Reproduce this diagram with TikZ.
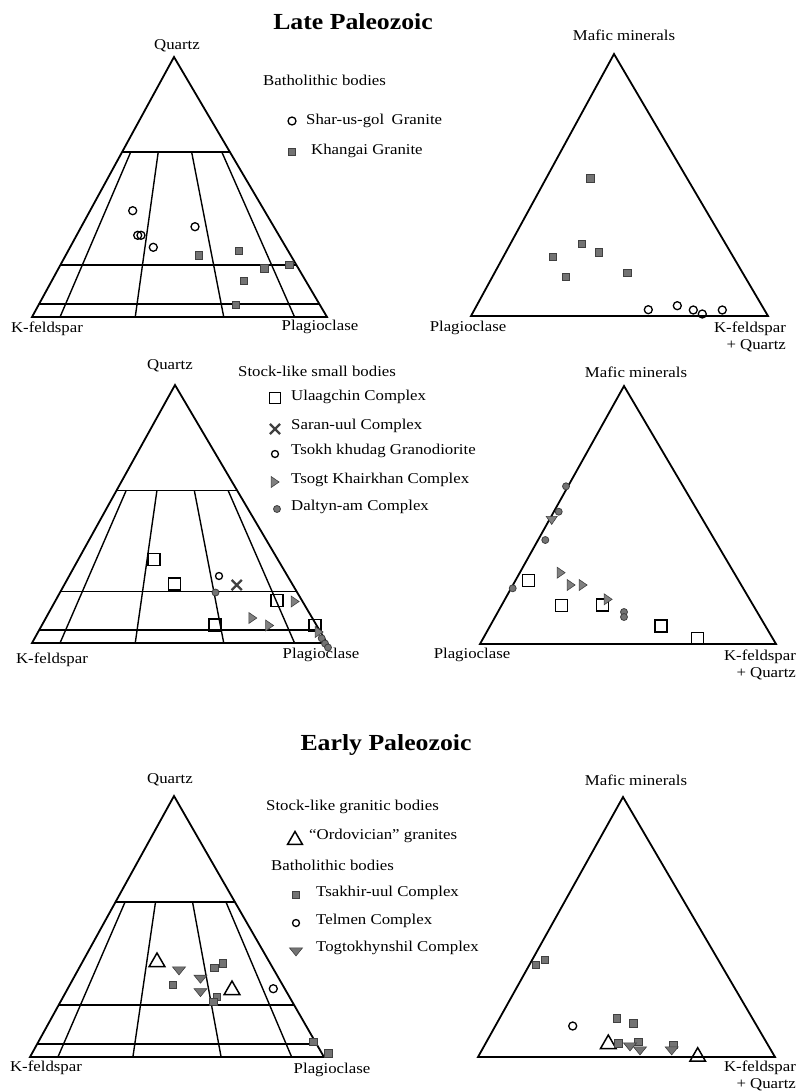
\documentclass[tikz,border=0pt]{standalone}
\usepackage{fontspec}
\setmainfont{Liberation Serif}[FakeStretch=1.12]
\usetikzlibrary{shapes.geometric,shapes.misc}

\begin{document}
\begin{tikzpicture}[x=1pt,y=-1pt,
    lbl/.style={font=\fontsize{15}{17}\selectfont,inner sep=1pt},
    leg/.style={lbl,anchor=west},
    ttl/.style={font=\fontsize{23}{26}\selectfont\bfseries},
    tri/.style={line width=1.8},
    grid/.style={line width=1.4},
    ocirc/.style={circle,draw,line width=1.3,inner sep=0,minimum size=8},
    gsq/.style={rectangle,fill=black!55,draw=black!75,line width=0.6,inner sep=0,minimum size=7.5},
    osq/.style={rectangle,draw,line width=1.4,inner sep=0,minimum size=12},
    xmark/.style={cross out,draw=black!75,line width=2.2,inner sep=0,minimum size=8},
    tsogt/.style={isosceles triangle,isosceles triangle stretches,fill=black!50,draw=black!75,line width=0.6,inner sep=0,minimum width=11,minimum height=8},
    gcirc/.style={circle,fill=black!55,draw=black!75,line width=0.8,inner sep=0,minimum size=7},
    otri/.style={regular polygon,regular polygon sides=3,draw,line width=1.5,inner sep=0,minimum size=18},
    togt/.style={isosceles triangle,isosceles triangle stretches,shape border rotate=-90,fill=black!55,draw=black!75,line width=0.6,inner sep=0,minimum width=13,minimum height=8}]

  \useasboundingbox (0,0) rectangle (798,1092);

  % Corners of the six triangles
  \coordinate (Qa) at (174,57);   \coordinate (Aa) at (32,317);   \coordinate (Pa) at (327,317);
  \coordinate (Qb) at (175,385);  \coordinate (Ab) at (32,643);   \coordinate (Pb) at (327,643);
  \coordinate (Qc) at (174,796);  \coordinate (Ac) at (30,1057);  \coordinate (Pc) at (324,1057);
  \coordinate (Ma) at (614,54);   \coordinate (La) at (471,316);  \coordinate (Ka) at (768,316);
  \coordinate (Mb) at (624,386);  \coordinate (Lb) at (480,644);  \coordinate (Kb) at (776,644);
  \coordinate (Mc) at (623,797);  \coordinate (Lc) at (478,1057); \coordinate (Kc) at (775,1057);

  % QAP triangles with their fields
  \foreach \t/\h in {a/0.635, b/0.59, c/0.594} {
    \pgfmathsetmacro{\hh}{1-\h}
    \draw[tri] (Q\t) -- (A\t) -- (P\t) -- cycle;
    \draw[grid] (barycentric cs:Q\t=\h,A\t=\hh) -- (barycentric cs:Q\t=\h,P\t=\hh);
    \draw[grid] (barycentric cs:Q\t=0.2,A\t=0.8) -- (barycentric cs:Q\t=0.2,P\t=0.8);
    \draw[grid] (barycentric cs:Q\t=0.05,A\t=0.95) -- (barycentric cs:Q\t=0.05,P\t=0.95);
    \foreach \r/\s in {0.095/0.08, 0.35/0.335, 0.65/0.645, 0.89/0.925} {
      \pgfmathsetmacro{\ra}{1-\r}
      \pgfmathsetmacro{\ta}{\hh*(1-\s)}
      \pgfmathsetmacro{\tp}{\hh*\s}
      \draw[grid] (barycentric cs:A\t=\ra,P\t=\r) -- (barycentric cs:Q\t=\h,A\t=\ta,P\t=\tp);
    }
  }

  % Mafic triangles
  \foreach \t in {a,b,c}
    \draw[tri] (M\t) -- (L\t) -- (K\t) -- cycle;

  % Titles
  \node[ttl] (late) at (353,22) {Late Paleozoic};
  \node[ttl] (early) at (386,745) {Early Paleozoic};

  % Corner labels
  \node[lbl] (qza) at (177,46) {Quartz};
  \node[lbl] (kfa) at (47,329) {K-feldspar};
  \node[lbl] (pla) at (320,327) {Plagioclase};
  \node[lbl] (mfa) at (624,35) {Mafic minerals};
  \node[lbl] (pra) at (468,328) {Plagioclase};
  \node[lbl,align=right] (kqa) at (750,337) {K-feldspar\\+ Quartz};

  \node[lbl] (qzb) at (170,366) {Quartz};
  \node[lbl] (kfb) at (52,660) {K-feldspar};
  \node[lbl] (plb) at (321,655) {Plagioclase};
  \node[lbl] (mfb) at (636,372) {Mafic minerals};
  \node[lbl] (prb) at (472,655) {Plagioclase};
  \node[lbl,align=right] (kqb) at (760,665) {K-feldspar\\+ Quartz};

  \node[lbl] (qzc) at (170,780) {Quartz};
  \node[lbl] (kfc) at (46,1068) {K-feldspar};
  \node[lbl] (plc) at (332,1070) {Plagioclase};
  \node[lbl] (mfc) at (636,780) {Mafic minerals};
  \node[lbl,align=right] (kqc) at (760,1076) {K-feldspar\\+ Quartz};

  % Legend, Late Paleozoic batholiths
  \node[leg] (lga) at (262,80) {Batholithic bodies};
  \node[ocirc] (lga1) at (292,121) {};
  \node[leg] (lta1) at (305,121) {Shar-us-gol\enspace Granite};
  \node[gsq] (lga2) at (292,152) {};
  \node[leg] (lta2) at (310,151) {Khangai Granite};

  % Legend, Late Paleozoic stocks
  \node[leg] (lgb) at (237,371) {Stock-like small bodies};
  \node[osq,minimum size=11] (lgb1) at (275,398) {};
  \node[leg] (ltb1) at (290,397) {Ulaagchin Complex};
  \node[xmark] (lgb2) at (275,429) {};
  \node[leg] (ltb2) at (290,426) {Saran-uul Complex};
  \node[ocirc,minimum size=7] (lgb3) at (275,454) {};
  \node[leg] (ltb3) at (290,451) {Tsokh khudag Granodiorite};
  \node[tsogt] (lgb4) at (274,482) {};
  \node[leg] (ltb4) at (290,480) {Tsogt Khairkhan Complex};
  \node[gcirc] (lgb5) at (277,509) {};
  \node[leg] (ltb5) at (290,507) {Daltyn-am Complex};

  % Legend, Early Paleozoic
  \node[leg] (lgc) at (265,807) {Stock-like granitic bodies};
  \node[otri,minimum size=17] (lgc1) at (295,840) {};
  \node[leg] (ltc1) at (308,836) {``Ordovician'' granites};
  \node[leg] (lgd) at (270,865) {Batholithic bodies};
  \node[gsq] (lgc2) at (296,895) {};
  \node[leg] (ltc2) at (315,893) {Tsakhir-uul Complex};
  \node[ocirc,minimum size=7] (lgc3) at (296,923) {};
  \node[leg] (ltc3) at (315,921) {Telmen Complex};
  \node[togt] (lgc4) at (296,951) {};
  \node[leg] (ltc4) at (315,948) {Togtokhynshil Complex};

  % Data, Late Paleozoic batholiths
  \foreach \x/\y [count=\i] in {132.7/210.7, 137.7/235.3, 141/235.3, 153.3/247.3, 195/226.7,
      648.3/309.7, 677.3/305.7, 693.3/310, 702.3/314, 722.3/310}
    \node[ocirc] (sg\i) at (\x,\y) {};
  \foreach \x/\y [count=\i] in {198.7/255.3, 238.7/251, 264.3/268.3, 289.3/265, 244/281, 236/304.7,
      590.3/178.3, 581.7/244, 599/252.3, 553/256.7, 565.7/276.7, 627.3/272.7}
    \node[gsq] (kh\i) at (\x,\y) {};

  % Data, Late Paleozoic stocks
  \foreach \x/\y [count=\i] in {154/559.3, 174.3/584, 215/625, 277/600.7, 315/625.3,
      528.3/580.7, 561.7/605.7, 602.3/605, 661/626, 697.7/638.3}
    \node[osq] (ul\i) at (\x,\y) {};
  \node[xmark] (su1) at (236.7,585) {};
  \node[ocirc,minimum size=7] (tk1) at (219,576) {};
  \foreach \x/\y [count=\i] in {294/601.5, 251.7/618, 268.5/625.5, 318/632,
      560/572.7, 570/585, 582/585, 607/599.3}
    \node[tsogt] (ts\i) at (\x,\y) {};
  \node[tsogt,shape border rotate=-60] (ts9) at (551.7,519.3) {};
  \foreach \x/\y [count=\i] in {215.5/592.5, 321.7/638.3, 325/643.5, 328/647.5,
      566/486.3, 558.7/511.7, 545.3/540, 512.7/588.3, 624/612, 624/617}
    \node[gcirc] (da\i) at (\x,\y) {};

  % Data, Early Paleozoic
  \foreach \x/\y [count=\i] in {157/962, 232/990, 608.3/1044, 697.7/1056.7}
    \node[otri] (or\i) at (\x,\y) {};
  \foreach \x/\y [count=\i] in {172.7/985, 214.3/967.7, 222.7/963.3, 216.7/996.7, 213.3/1001.7,
      313.3/1041.7, 328.3/1053.3, 535.7/965, 545/960, 616.7/1018.3, 633.3/1023.3,
      618.3/1043.3, 638.3/1041.7, 673.3/1045}
    \node[gsq] (tu\i) at (\x,\y) {};
  \node[ocirc] (te1) at (273.3,988.7) {};
  \node[ocirc] (te2) at (572.7,1026) {};
  \foreach \x/\y [count=\i] in {179/970, 200.5/978.3, 200.5/991.7, 630/1046, 640/1050, 671.7/1050}
    \node[togt] (tg\i) at (\x,\y) {};
\end{tikzpicture}
\end{document}
